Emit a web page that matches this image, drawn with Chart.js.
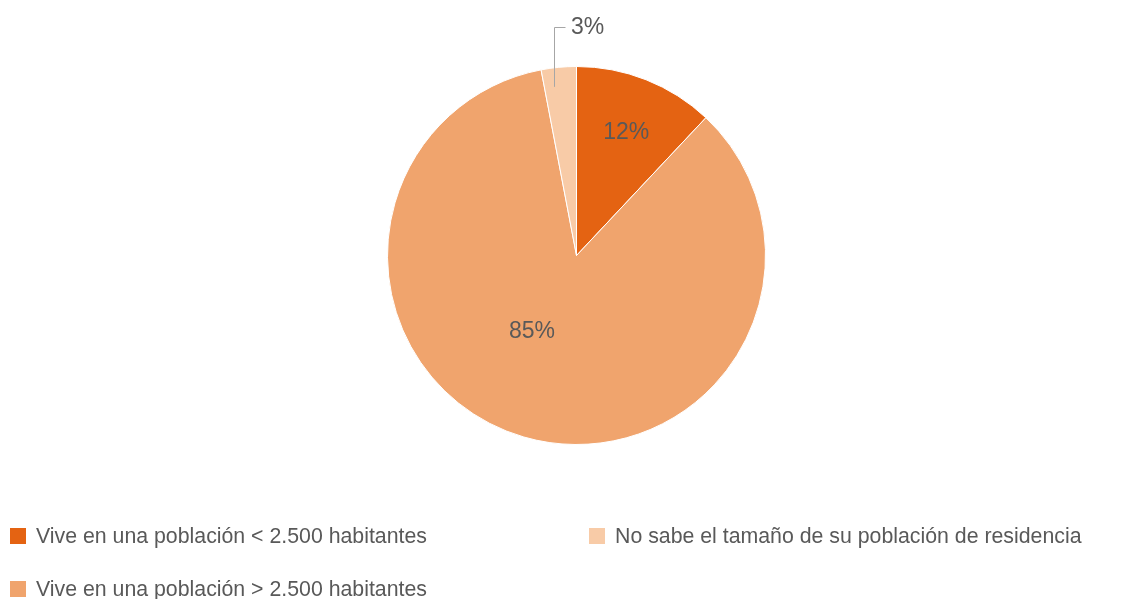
<!DOCTYPE html>
<html>
<head>
<meta charset="utf-8">
<script src="https://cdn.jsdelivr.net/npm/chart.js@4/dist/chart.umd.min.js"></script>
<style>
  html, body { margin: 0; padding: 0; background: #ffffff; }
  #wrap { position: relative; width: 1145px; height: 599px; overflow: hidden; }
  #c { position: absolute; left: 0; top: 0; }
  .lg { position: absolute; display: flex; align-items: center; font-family: "Liberation Sans", Arial, sans-serif; font-size: 21.3px; color: #595959; white-space: nowrap; }
  .lg span.box { display: inline-block; width: 16px; height: 16px; margin-right: 10px; }
</style>
</head>
<body>
<div id="wrap">
  <canvas id="c" width="1145" height="599"></canvas>
</div>
<script>
// ---- data ----
const categories = [
  "Vive en una población < 2.500 habitantes",
  "Vive en una población > 2.500 habitantes",
  "No sabe el tamaño de su población de residencia"
];
const values = [12, 85, 3];
const valueLabels = ["12%", "85%", "3%"];

// ---- styles ----
const colors = ["#E46312", "#F0A46D", "#F8CBA7"];
const textColor = "#595959";
// label placement per slice: radial fraction, angle offset (deg), outside leader
const labelPlacement = [
  { r: 0.70, dAngle: 0.5 },
  { r: 0.465, dAngle: 14.3 },
  { outside: true, anchorR: 0.9, dAngle: -2.1, rise: 61, run: 11, gap: 6 }
];
// legend: column-major in two columns
const legendSlots = [
  { left: 10, top: 536 },
  { left: 10, top: 589 },
  { left: 589, top: 536 }
];

const labelPlugin = {
  id: 'sliceLabels',
  afterDatasetsDraw(chart) {
    const ctx = chart.ctx;
    const meta = chart.getDatasetMeta(0);
    ctx.save();
    ctx.font = '23px "Liberation Sans", Arial, sans-serif';
    ctx.fillStyle = textColor;
    ctx.textBaseline = 'middle';
    meta.data.forEach((arc, i) => {
      const p = labelPlacement[i];
      const mid = (arc.startAngle + arc.endAngle) / 2 + p.dAngle * Math.PI / 180;
      const R = arc.outerRadius;
      if (!p.outside) {
        const x = arc.x + Math.cos(mid) * R * p.r;
        const y = arc.y + Math.sin(mid) * R * p.r;
        ctx.textAlign = 'center';
        ctx.fillText(valueLabels[i], x, y);
      } else {
        const ax = arc.x + Math.cos(mid) * R * p.anchorR;
        const ay = arc.y + Math.sin(mid) * R * p.anchorR;
        const topY = arc.y - R - 40;
        ctx.strokeStyle = '#A6A6A6';
        ctx.lineWidth = 1;
        ctx.beginPath();
        ctx.moveTo(Math.round(ax) + 0.5, ay);
        ctx.lineTo(Math.round(ax) + 0.5, Math.round(topY) + 0.5);
        ctx.lineTo(Math.round(ax) + 0.5 + p.run, Math.round(topY) + 0.5);
        ctx.stroke();
        ctx.textAlign = 'left';
        ctx.fillText(valueLabels[i], Math.round(ax) + p.run + p.gap, topY + 1);
      }
    });
    ctx.restore();
  }
};

new Chart(document.getElementById('c'), {
  type: 'pie',
  data: {
    labels: categories,
    datasets: [{
      data: values,
      backgroundColor: colors,
      borderColor: '#ffffff',
      borderWidth: 1
    }]
  },
  options: {
    responsive: false,
    animation: false,
    layout: { padding: { top: 66, bottom: 154, left: 387, right: 379 } },
    plugins: {
      legend: { display: false },
      tooltip: { enabled: false }
    }
  },
  plugins: [labelPlugin]
});

// HTML legend built from the arrays
const wrap = document.getElementById('wrap');
categories.forEach((name, i) => {
  const d = document.createElement('div');
  d.className = 'lg';
  d.style.left = legendSlots[i].left + 'px';
  d.style.top = (legendSlots[i].top - 13) + 'px';
  d.style.height = '26px';
  const b = document.createElement('span');
  b.className = 'box';
  b.style.background = colors[i];
  const t = document.createElement('span');
  t.textContent = name;
  d.appendChild(b);
  d.appendChild(t);
  wrap.appendChild(d);
});
</script>
</body>
</html>
